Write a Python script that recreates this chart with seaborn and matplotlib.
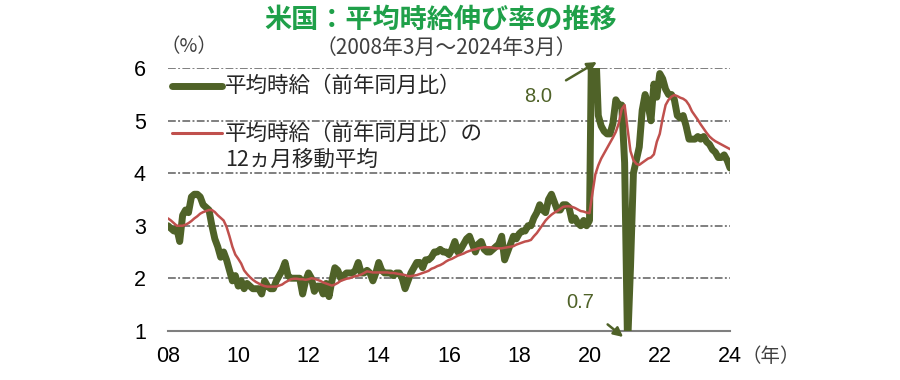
import matplotlib
matplotlib.use("Agg")
import matplotlib.pyplot as plt
import seaborn as sns
import pandas as pd
import numpy as np

# ---- data (monthly, 2008-03 .. 2024-03) ----
wage_yoy = [
    3.0, 2.95, 2.9, 2.95, 2.7, 3.2, 3.3, 3.25, 3.55, 3.6,
    3.6, 3.55, 3.4, 3.35, 3.3, 3.0, 2.75, 2.6, 2.4, 2.5,
    2.35, 2.15, 1.95, 2.05, 1.85, 1.95, 1.8, 1.9, 1.85, 1.8,
    1.8, 1.8, 1.7, 1.95, 1.85, 1.8, 1.8, 1.95, 2.05, 2.15,
    2.3, 2.05, 2.0, 2.0, 2.0, 2.0, 1.7, 1.95, 2.1, 2.0,
    1.75, 1.85, 1.85, 1.7, 1.9, 1.65, 1.95, 2.2, 2.15, 2.0,
    2.05, 2.1, 2.1, 2.1, 2.15, 2.3, 2.1, 2.1, 2.15, 2.1,
    1.95, 2.1, 2.3, 2.15, 2.1, 2.1, 2.1, 2.05, 2.1, 2.1,
    2.0, 1.8, 1.95, 2.1, 2.2, 2.3, 2.3, 2.2, 2.35, 2.35,
    2.4, 2.5, 2.5, 2.55, 2.5, 2.5, 2.45, 2.55, 2.7, 2.5,
    2.55, 2.65, 2.75, 2.8, 2.65, 2.5, 2.65, 2.7, 2.55, 2.5,
    2.5, 2.55, 2.6, 2.65, 2.8, 2.35, 2.5, 2.65, 2.8, 2.75,
    2.85, 2.9, 2.9, 3.0, 3.0, 3.15, 3.25, 3.4, 3.3, 3.25,
    3.5, 3.6, 3.45, 3.3, 3.3, 3.4, 3.4, 3.35, 3.1, 3.15,
    3.05, 3.0, 3.1, 3.0, 3.1, 8.0, 6.6, 5.1, 4.9, 4.8,
    4.75, 4.75, 4.95, 5.4, 5.3, 5.3, 4.2, 0.7, 2.2, 4.0,
    4.25, 4.5, 5.2, 5.5, 5.3, 5.0, 5.7, 5.45, 5.9, 5.8,
    5.6, 5.5, 5.5, 5.4, 5.1, 5.05, 5.1, 4.9, 4.65, 4.65,
    4.65, 4.7, 4.65, 4.7, 4.6, 4.55, 4.45, 4.4, 4.3, 4.3,
    4.35, 4.25, 4.1,
]
wage_ma12 = [
    3.14, 3.1, 3.05, 3.0, 3.0, 3.0, 3.02, 3.05, 3.09, 3.14,
    3.18, 3.23, 3.26, 3.28, 3.3, 3.3, 3.26, 3.2, 3.15, 3.1,
    2.98, 2.8, 2.6, 2.45, 2.37, 2.28, 2.15, 2.08, 2.02, 1.97,
    1.93, 1.9, 1.87, 1.85, 1.84, 1.84, 1.84, 1.84, 1.86, 1.88,
    1.92, 1.95, 1.98, 1.99, 1.99, 1.98, 1.98, 1.97, 1.98, 2.0,
    1.99, 1.97, 1.95, 1.92, 1.9, 1.88, 1.86, 1.88, 1.91, 1.95,
    1.97, 1.99, 2.0, 2.02, 2.04, 2.05, 2.07, 2.1, 2.13, 2.12,
    2.11, 2.11, 2.11, 2.11, 2.11, 2.11, 2.1, 2.1, 2.09, 2.08,
    2.07, 2.06, 2.04, 2.04, 2.05, 2.06, 2.08, 2.1, 2.12, 2.14,
    2.18, 2.2, 2.23, 2.25, 2.28, 2.32, 2.35, 2.37, 2.4, 2.43,
    2.45, 2.47, 2.5, 2.52, 2.54, 2.55, 2.57, 2.58, 2.59, 2.59,
    2.59, 2.58, 2.57, 2.57, 2.57, 2.58, 2.59, 2.6, 2.61, 2.64,
    2.66, 2.68, 2.7, 2.71, 2.73, 2.8, 2.86, 2.94, 3.02, 3.1,
    3.16, 3.21, 3.25, 3.28, 3.32, 3.36, 3.37, 3.37, 3.36, 3.34,
    3.31, 3.28, 3.27, 3.25, 3.24, 3.62, 3.98, 4.15, 4.28, 4.38,
    4.48, 4.58, 4.68, 4.79, 4.95, 5.22, 5.3, 4.85, 4.42, 4.25,
    4.18, 4.16, 4.2, 4.24, 4.28, 4.3, 4.36, 4.6, 4.75, 5.05,
    5.3, 5.4, 5.46, 5.49, 5.47, 5.44, 5.42, 5.38, 5.3, 5.18,
    5.1, 5.02, 4.93, 4.85, 4.77, 4.7, 4.65, 4.61, 4.58, 4.55,
    4.52, 4.49, 4.46,
]
year_labels = ["08", "10", "12", "14", "16", "18", "20", "22", "24"]
y_ticks = [1, 2, 3, 4, 5, 6]
label_green = "平均時給（前年同月比）"
label_red = "平均時給（前年同月比）の\n12ヵ月移動平均"
peak_label, trough_label = "8.0", "0.7"

n = len(wage_yoy)
assert n == len(wage_ma12) == 193, (len(wage_yoy), len(wage_ma12))
df = pd.DataFrame({"m": np.arange(n), "yoy": wage_yoy, "ma": wage_ma12})

# ---- style ----
sns.set_style("white")
plt.rcParams["font.family"] = ["Noto Sans CJK JP", "DejaVu Sans"]

GREEN = "#4f6228"
RED = "#c0504d"
GRID = "#7f7f7f"

fig = plt.figure(figsize=(9, 3.8), dpi=100)
ax = fig.add_axes([168 / 900, 1 - 330.7 / 380, (730 - 168) / 900, (330.7 - 68.3) / 380])

for yv in y_ticks[1:]:
    ax.axhline(yv, color=GRID, lw=1.4, ls=(0, (4, 1.2, 1, 1.2)), zorder=0)

sns.lineplot(data=df, x="m", y="yoy", ax=ax, color=GREEN, lw=5.0, zorder=3,
             solid_capstyle="round", solid_joinstyle="round")
sns.lineplot(data=df, x="m", y="ma", ax=ax, color=RED, lw=1.8, zorder=4)

ax.set_xlim(0, n - 1)
ax.set_ylim(1, 6)
ax.set_xticks(np.arange(0, n, 24))
ax.set_xticklabels(year_labels)
ax.set_yticks(y_ticks)
ax.set_yticklabels([str(v) for v in y_ticks])
ax.set_xlabel("")
ax.set_ylabel("")
for s in ["top", "right", "left"]:
    ax.spines[s].set_visible(False)
ax.spines["bottom"].set_color(GRID)
ax.spines["bottom"].set_linewidth(1.5)
ax.tick_params(axis="x", direction="out", length=6, width=1.5, color=GRID,
               labelsize=15.5, pad=5, labelcolor="black")
ax.tick_params(axis="y", length=0, labelsize=15.5, pad=16, labelcolor="black")
for t in ax.get_xticklabels() + ax.get_yticklabels():
    t.set_family(["Liberation Sans", "DejaVu Sans"])
if ax.get_legend():
    ax.get_legend().remove()

# legend (hand-built, no background)
tr = fig.transFigure
fig.add_artist(plt.Line2D([172 / 900, 222 / 900], [1 - 86 / 380] * 2, transform=tr,
                          color=GREEN, lw=5, solid_capstyle="round"))
fig.text(225 / 900, 1 - 86 / 380, label_green, fontsize=15.5, va="center", ha="left")
fig.add_artist(plt.Line2D([172 / 900, 222 / 900], [1 - 133 / 380] * 2, transform=tr,
                          color=RED, lw=2.2))
fig.text(225 / 900, 1 - 147 / 380, label_red, fontsize=15.5, va="center", ha="left",
         linespacing=1.25)

# annotations
ax.annotate(peak_label, xy=(146.5, 6.12), xycoords="data",
            xytext=(538 / 900, 1 - 97 / 380), textcoords="figure fraction",
            ha="center", va="center", fontsize=14.5, color=GREEN,
            family=["Liberation Sans", "DejaVu Sans"],
            arrowprops=dict(arrowstyle="-|>", color=GREEN, lw=1.8, shrinkA=9, shrinkB=0,
                            mutation_scale=14),
            annotation_clip=False)
ax.annotate(trough_label, xy=(155.5, 0.88), xycoords="data",
            xytext=(580 / 900, 1 - 302 / 380), textcoords="figure fraction",
            ha="center", va="center", fontsize=14.5, color=GREEN,
            family=["Liberation Sans", "DejaVu Sans"],
            arrowprops=dict(arrowstyle="-|>", color=GREEN, lw=1.8, shrinkA=11, shrinkB=0,
                            mutation_scale=14),
            annotation_clip=False)

# titles and unit labels
fig.text(441 / 900, 1 - 20 / 380, "米国：平均時給伸び率の推移", fontsize=19.5, fontweight="bold",
         color="#1fa049", ha="center", va="center")
fig.text(446 / 900, 1 - 48 / 380, "（2008年3月～2024年3月）", fontsize=15, color="#404040",
         ha="center", va="center")
fig.text(189 / 900, 1 - 47 / 380, "（%）", fontsize=14, color="#404040", ha="center", va="center")
fig.text(771 / 900, 1 - 356 / 380, "（年）", fontsize=14, color="#404040", ha="center", va="center")

fig.savefig("out.png", dpi=100)
